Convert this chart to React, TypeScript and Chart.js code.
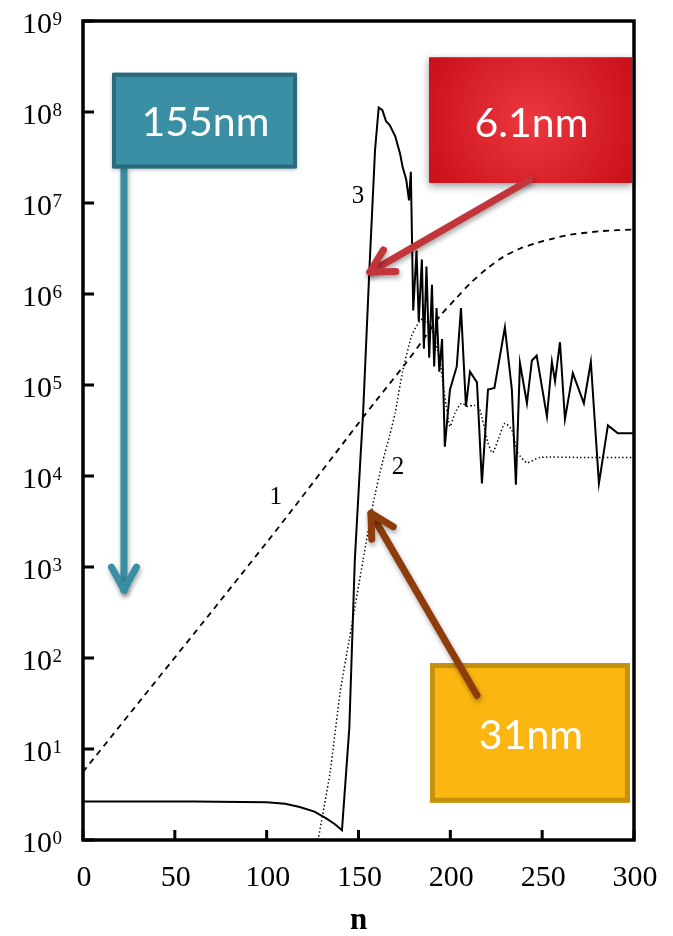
import React, { useEffect, useRef } from "react";
import { Chart, registerables } from "chart.js";

Chart.register(...registerables);

// ---------- axis ticks ----------
const X_TICKS = [0, 50, 100, 150, 200, 250, 300];
const Y_EXPONENTS = [0, 1, 2, 3, 4, 5, 6, 7, 8, 9];
const X_TITLE = "n";

// ---------- curve 1 (dashed) ----------
const N1 = [0, 100, 150, 160, 175, 185, 194, 203, 211, 220, 229, 238, 247, 256, 265, 282, 300];
const V1 = [5.6, 1.86e3, 3.8e4, 6.9e4, 1.66e5, 3.1e5, 5.6e5, 8.9e5, 1.32e6, 1.9e6, 2.57e6, 3.16e6, 3.63e6, 4.07e6, 4.47e6, 4.9e6, 5.13e6];

// ---------- curve 2 (dotted) ----------
const N2 = [128, 134.5, 140, 145, 152.5, 158, 163, 167, 170, 174, 179, 183.5, 186, 190, 194, 197, 199.8, 202.5, 206, 209.6, 213, 216, 220.5, 223, 226, 229.7, 233.5, 236.8, 241.7, 248.8, 270, 300];
const V2 = [1.0, 5.5, 42, 160, 1.2e3, 5.0e3, 1.4e4, 2.8e4, 5.0e4, 1.4e5, 3.5e5, 5.1e5, 5.4e5, 4.0e5, 2.0e5, 7.4e4, 3.5e4, 4.9e4, 6.3e4, 5.8e4, 6.0e4, 5.4e4, 2.3e4, 1.8e4, 2.5e4, 3.8e4, 3.2e4, 1.8e4, 1.4e4, 1.6e4, 1.6e4, 1.6e4];

// ---------- curve 3 (solid) ----------
const N3 = [0, 60, 100, 110, 118, 126, 132, 137, 141, 145, 148, 151, 152.5, 156, 159, 161, 163, 165, 167, 170, 172.6, 174, 176, 177.5, 178.5, 179.8, 181.6, 182.8, 184.5, 185.6, 187, 188.5, 190, 191.2, 192.5, 194, 195.5, 197, 199.8, 203.5, 205.8, 208.5, 210.7, 214.5, 217.2, 220.5, 224, 229.7, 233.5, 235.7, 237.9, 241.7, 244.4, 247, 252.6, 255.3, 257, 259.7, 262.4, 266.7, 272.7, 276.5, 280.9, 285.8, 291.2, 300];
const V3 = [2.65, 2.65, 2.6, 2.5, 2.3, 2.05, 1.75, 1.5, 1.28, 17, 1.2e3, 1.5e4, 4.9e4, 2.0e6, 3.8e7, 1.12e8, 1.05e8, 7.9e7, 7.2e7, 5.4e7, 3.5e7, 2.5e7, 1.8e7, 1.07e7, 2.2e7, 6.6e5, 3.0e6, 5.0e5, 2.4e6, 2.5e5, 2.0e6, 2.0e5, 1.26e6, 1.6e5, 7.0e5, 1.4e5, 3.2e5, 2.1e4, 8.9e4, 1.6e5, 7.0e5, 5.8e4, 1.4e5, 1.07e5, 8.3e3, 8.9e4, 9.3e4, 4.3e5, 8.9e4, 8.0e3, 1.74e5, 6.3e4, 1.86e5, 2.1e5, 4.5e4, 1.8e5, 1.1e5, 2.95e5, 4.2e4, 1.35e5, 6.3e4, 1.8e5, 8.3e3, 3.6e4, 2.95e4, 2.95e4];

// ---------- curve labels ----------
const CURVE_LABELS = ["1", "2", "3"];
const CURVE_LABEL_N = [105, 171.5, 149.7];
const CURVE_LABEL_V = [5.8e3, 1.23e4, 1.17e7];

// ---------- call-outs (in data coordinates) ----------
const CALLOUT_TEXT = ["155nm", "6.1nm", "31nm"];
const CALLOUT_N0 = [15.8, 188.4, 188.9];
const CALLOUT_N1 = [116.5, 298.9, 297.8];
const CALLOUT_V0 = [2.7e8, 4.0e8, 88];
const CALLOUT_V1 = [2.4e7, 1.66e7, 2.57];
const ARROW_FROM_N = [22.3, 243.3, 214.5];
const ARROW_FROM_V = [2.4e7, 1.8e7, 39];
const ARROW_TO_N = [22.3, 156.2, 156.8];
const ARROW_TO_V = [560, 1.74e6, 3.9e3];

const zip = (xs: number[], ys: number[]) => xs.map((x, i) => ({ x, y: ys[i] }));

function drawArrow(ctx: CanvasRenderingContext2D, x0: number, y0: number, x1: number, y1: number, color: string) {
  ctx.save();
  ctx.shadowColor = "rgba(0,0,0,0.35)";
  ctx.shadowBlur = 5;
  ctx.shadowOffsetX = 1;
  ctx.shadowOffsetY = 3;
  ctx.strokeStyle = color;
  ctx.lineWidth = 7;
  ctx.lineCap = "round";
  ctx.lineJoin = "round";
  ctx.beginPath();
  ctx.moveTo(x0, y0);
  ctx.lineTo(x1, y1);
  ctx.stroke();
  const ang = Math.atan2(y1 - y0, x1 - x0);
  const L = 26;
  const a = 0.5;
  ctx.beginPath();
  ctx.moveTo(x1 - L * Math.cos(ang - a), y1 - L * Math.sin(ang - a));
  ctx.lineTo(x1, y1);
  ctx.lineTo(x1 - L * Math.cos(ang + a), y1 - L * Math.sin(ang + a));
  ctx.stroke();
  ctx.restore();
}

const decorPlugin = {
  id: "decor",
  afterDraw(chart: any) {
    const { ctx, chartArea: ca, scales } = chart;
    const xs = scales.x;
    const ys = scales.y;
    ctx.save();

    // frame
    ctx.strokeStyle = "#000";
    ctx.lineWidth = 3.5;
    ctx.strokeRect(ca.left, ca.top, ca.right - ca.left, ca.bottom - ca.top);

    // inward ticks
    ctx.lineWidth = 3;
    ctx.beginPath();
    Y_EXPONENTS.forEach((e) => {
      const py = ys.getPixelForValue(Math.pow(10, e));
      ctx.moveTo(ca.left, py);
      ctx.lineTo(ca.left + 11, py);
    });
    X_TICKS.forEach((t) => {
      const px = xs.getPixelForValue(t);
      ctx.moveTo(px, ca.bottom);
      ctx.lineTo(px, ca.bottom - 10);
    });
    ctx.stroke();

    // y tick labels 10^e
    ctx.fillStyle = "#000";
    Y_EXPONENTS.forEach((e) => {
      const py = ys.getPixelForValue(Math.pow(10, e));
      ctx.font = "19px 'Liberation Serif'";
      const ex = String(e);
      const ew = ctx.measureText(ex).width;
      const right = ca.left - 21;
      ctx.textAlign = "left";
      ctx.textBaseline = "alphabetic";
      ctx.fillText(ex, right - ew, py + 4);
      ctx.font = "30px 'Liberation Serif'";
      ctx.textAlign = "right";
      ctx.fillText("10", right - ew - 0.5, py + 12);
    });

    // x tick labels
    ctx.font = "30px 'Liberation Serif'";
    ctx.textAlign = "center";
    ctx.textBaseline = "alphabetic";
    X_TICKS.forEach((t) => {
      const px = xs.getPixelForValue(t);
      ctx.fillText(String(t), px + 1, ca.bottom + 46);
    });

    // x title
    ctx.font = "bold 31px 'Liberation Serif'";
    ctx.fillText(X_TITLE, (ca.left + ca.right) / 2, ca.bottom + 89);

    // curve labels
    ctx.font = "25px 'Liberation Serif'";
    ctx.textBaseline = "middle";
    CURVE_LABELS.forEach((lab, i) => {
      ctx.fillText(lab, xs.getPixelForValue(CURVE_LABEL_N[i]), ys.getPixelForValue(CURVE_LABEL_V[i]));
    });

    const box = (i: number) => {
      const x0 = xs.getPixelForValue(CALLOUT_N0[i]);
      const x1 = xs.getPixelForValue(CALLOUT_N1[i]);
      const y0 = ys.getPixelForValue(CALLOUT_V0[i]);
      const y1 = ys.getPixelForValue(CALLOUT_V1[i]);
      return { x0, y0, w: x1 - x0, h: y1 - y0 };
    };
    const arrowPts = (i: number) => [
      xs.getPixelForValue(ARROW_FROM_N[i]),
      ys.getPixelForValue(ARROW_FROM_V[i]),
      xs.getPixelForValue(ARROW_TO_N[i]),
      ys.getPixelForValue(ARROW_TO_V[i]),
    ];
    const label = (i: number, b: any, dy: number) => {
      ctx.save();
      ctx.fillStyle = "#fff";
      ctx.font = "41px Lato";
      ctx.textAlign = "center";
      ctx.textBaseline = "middle";
      ctx.fillText(CALLOUT_TEXT[i], b.x0 + b.w / 2 + 1, b.y0 + b.h / 2 + dy);
      ctx.restore();
    };

    // teal call-out
    {
      const [a, b2, c, d] = arrowPts(0);
      drawArrow(ctx, a, b2, c, d, "#3a8ea3");
      const b = box(0);
      ctx.save();
      ctx.shadowColor = "rgba(0,0,0,0.25)";
      ctx.shadowBlur = 4;
      ctx.shadowOffsetY = 2;
      ctx.fillStyle = "#3b8fa4";
      ctx.fillRect(b.x0, b.y0, b.w, b.h);
      ctx.restore();
      ctx.save();
      ctx.strokeStyle = "#2b6a7a";
      ctx.lineWidth = 4;
      ctx.lineJoin = "round";
      ctx.strokeRect(b.x0 + 2, b.y0 + 2, b.w - 4, b.h - 4);
      ctx.restore();
      label(0, b, 2);
    }

    // red call-out
    {
      const b = box(1);
      ctx.save();
      ctx.shadowColor = "rgba(0,0,0,0.4)";
      ctx.shadowBlur = 8;
      ctx.shadowOffsetY = 3;
      const cx = b.x0 + b.w / 2;
      const cy = b.y0 + b.h / 2;
      const g = ctx.createRadialGradient(cx, cy, 0, cx, cy, b.w * 0.6);
      g.addColorStop(0, "#ec3840");
      g.addColorStop(1, "#c80d16");
      ctx.fillStyle = g;
      ctx.fillRect(b.x0, b.y0, b.w, b.h);
      ctx.restore();
      const [a, b2, c, d] = arrowPts(1);
      drawArrow(ctx, a, b2, c, d, "#c2353b");
      label(1, b, 4);
    }

    // yellow call-out
    {
      const b = box(2);
      ctx.save();
      ctx.fillStyle = "#fbb611";
      ctx.fillRect(b.x0, b.y0, b.w, b.h);
      ctx.strokeStyle = "#c6920e";
      ctx.lineWidth = 5;
      ctx.strokeRect(b.x0 + 2.5, b.y0 + 2.5, b.w - 5, b.h - 5);
      ctx.restore();
      label(2, b, 3);
      const [a, b2, c, d] = arrowPts(2);
      drawArrow(ctx, a, b2, c, d, "#8e3c0c");
    }

    ctx.restore();
  },
};

export default function App() {
  const ref = useRef<HTMLCanvasElement | null>(null);
  useEffect(() => {
    document.body.style.margin = "0";
    const canvas = ref.current;
    if (!canvas) return;
    const chart = new Chart(canvas, {
      type: "line",
      data: {
        datasets: [
          {
            label: "1",
            data: zip(N1, V1),
            borderColor: "#000",
            borderWidth: 1.8,
            borderDash: [6, 5],
            pointRadius: 0,
            tension: 0.3,
            fill: false,
          },
          {
            label: "2",
            data: zip(N2, V2),
            borderColor: "#000",
            borderWidth: 1.5,
            borderDash: [1.4, 2.4],
            pointRadius: 0,
            tension: 0.2,
            fill: false,
          },
          {
            label: "3",
            data: zip(N3, V3),
            borderColor: "#000",
            borderWidth: 2,
            pointRadius: 0,
            tension: 0,
            fill: false,
          },
        ],
      },
      options: {
        animation: false,
        responsive: false,
        devicePixelRatio: 1,
        layout: { padding: { left: 83, top: 21, right: 39, bottom: 96 } },
        plugins: { legend: { display: false }, tooltip: { enabled: false } },
        events: [],
        scales: {
          x: { type: "linear", min: 0, max: 300, display: false },
          y: { type: "logarithmic", min: 1, max: 1e9, display: false },
        },
      },
      plugins: [decorPlugin],
    } as any);
    return () => chart.destroy();
  }, []);
  return (
    <div style={{ width: 673, height: 936, background: "#fff" }}>
      <canvas ref={ref} width={673} height={936} style={{ display: "block" }} />
    </div>
  );
}
